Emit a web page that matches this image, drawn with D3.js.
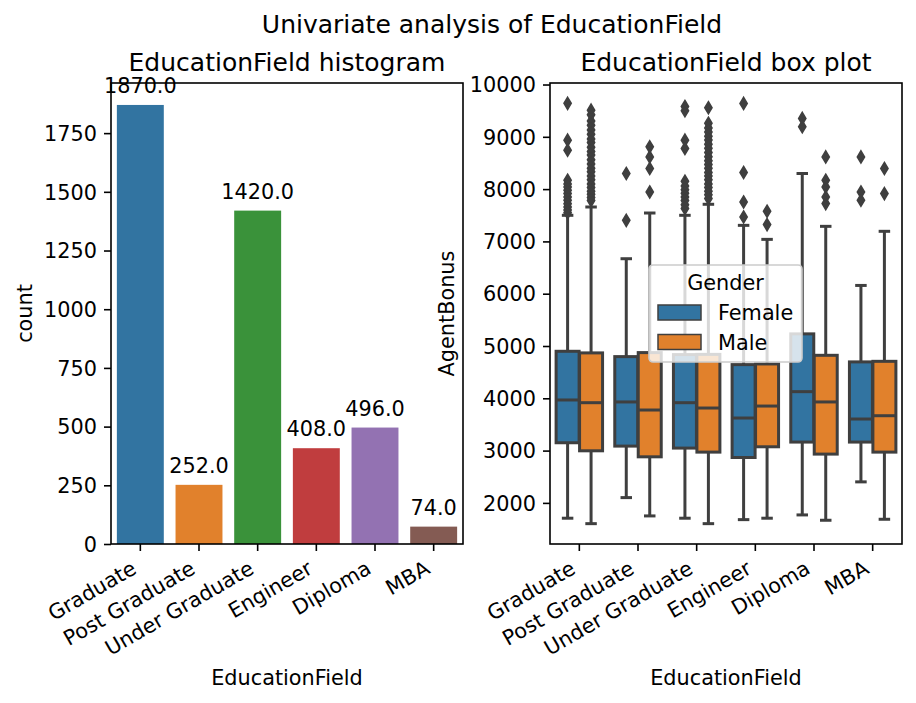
<!DOCTYPE html>
<html>
<head>
<meta charset="utf-8">
<script src="https://cdn.jsdelivr.net/npm/d3@7"></script>
<style>
  body { margin: 0; background: #fff; }
  svg { display: block; font-family: "DejaVu Sans", sans-serif; }
</style>
</head>
<body>
<div id="chart"></div>
<script>
// data
const categories = ["Graduate", "Post Graduate", "Under Graduate", "Engineer", "Diploma", "MBA"];
const counts = [1870, 252, 1420, 408, 496, 74];
const barColors = ["#3274a1", "#e1812c", "#3a923a", "#c03d3e", "#9372b2", "#845b53"];
const genders = ["Female", "Male"];
const genderColors = ["#3274a1", "#e1812c"];
const countTicks = [0, 250, 500, 750, 1000, 1250, 1500, 1750];
const bonusTicks = [2000, 3000, 4000, 5000, 6000, 7000, 8000, 9000, 10000];

// [whisker low, q1, median, q3, whisker high] per category
const femaleStats = [
  [1707, 3150, 3968, 4899, 7499],
  [2101, 3086, 3930, 4797, 6669],
  [1707, 3048, 3916, 4836, 7499],
  [1680, 2868, 3623, 4644, 7307],
  [1770, 3163, 4127, 5232, 8298],
  [2402, 3163, 3604, 4696, 6158]
];
const maleStats = [
  [1603, 2996, 3916, 4868, 7658],
  [1751, 2881, 3776, 4874, 7543],
  [1603, 2971, 3814, 4840, 7710],
  [1707, 3073, 3852, 4657, 7039],
  [1668, 2933, 3930, 4822, 7288],
  [1687, 2971, 3667, 4707, 7193]
];
const femaleOutliers = [
  [9640, 8936, 8745, 8170, 8100, 8040, 7980, 7915, 7850, 7786, 7720, 7658, 7600, 7550],
  [8298, 7403],
  [9580, 9500, 8936, 8777, 8150, 8060, 7990, 7920, 7850, 7780, 7700, 7630],
  [9639, 8317, 7754, 7467],
  [9352, 9192],
  [8616, 7946, 7787]
];
const maleOutliers = [
  [9510, 9420, 9300, 9220, 9130, 9050, 8960, 8890, 8800, 8720, 8650, 8560, 8480, 8400, 8330, 8250, 8180, 8100, 8030, 7960, 7900, 7840, 7780],
  [8808, 8616, 8394, 7946],
  [9556, 9260, 9170, 9090, 9010, 8940, 8860, 8780, 8700, 8620, 8540, 8470, 8400, 8320, 8250, 8180, 8100, 8030, 7960, 7890, 7820],
  [7576, 7321],
  [8616, 8170, 8042, 7850, 7723],
  [8394, 7914]
];

const W = 916, H = 703;
const FS = 20.8, TFS = 25;
const lineGray = "#3f3f3f";

const svg = d3.select("#chart").append("svg")
    .attr("width", W)
    .attr("height", H);

svg.append("text")
    .attr("x", 492).attr("y", 33)
    .attr("text-anchor", "middle")
    .attr("font-size", TFS)
    .text("Univariate analysis of EducationField");

const axTop = 83, axBottom = 544;

function xBand(left, right) {
    return d3.scaleBand().domain(categories).range([left, right])
        .paddingInner(0.2).paddingOuter(0.1);
}

function drawAxes(g, x, y, yTicks, left, right, title, ylabel, ylabelX) {
    const ya = g.append("g")
        .attr("transform", `translate(${left},0)`)
        .call(d3.axisLeft(y).tickValues(yTicks).tickFormat(d3.format("d"))
            .tickSize(7).tickPadding(7).tickSizeOuter(0));
    const xa = g.append("g")
        .attr("transform", `translate(0,${axBottom})`)
        .call(d3.axisBottom(x).tickSize(7).tickPadding(7).tickSizeOuter(0));
    [ya, xa].forEach(a => {
        a.select(".domain").remove();
        a.selectAll("line").attr("stroke", "#000").attr("stroke-width", 1.6);
        a.selectAll("text").attr("font-size", FS).attr("fill", "#000")
            .attr("font-family", "DejaVu Sans");
    });
    ya.selectAll("text").attr("dy", "0.35em");
    xa.selectAll("text")
        .attr("x", 0).attr("y", 0).attr("dy", null)
        .attr("text-anchor", "end")
        .attr("transform", "translate(-2.4,28.5) rotate(-30)");

    g.append("rect")
        .attr("x", left).attr("y", axTop)
        .attr("width", right - left).attr("height", axBottom - axTop)
        .attr("fill", "none").attr("stroke", "#000").attr("stroke-width", 1.6);

    g.append("text")
        .attr("x", (left + right) / 2).attr("y", 70.5)
        .attr("text-anchor", "middle").attr("font-size", TFS)
        .text(title);
    g.append("text")
        .attr("x", (left + right) / 2).attr("y", 685)
        .attr("text-anchor", "middle").attr("font-size", FS)
        .text("EducationField");
    g.append("text")
        .attr("transform", `translate(${ylabelX},${(axTop + axBottom) / 2}) rotate(-90)`)
        .attr("text-anchor", "middle").attr("font-size", FS)
        .text(ylabel);
}

// histogram (count plot)
const left1 = 111, right1 = 463;
const x1 = xBand(left1, right1);
const y1 = d3.scaleLinear().domain([0, 1870 * 1.05]).range([axBottom, axTop]);
const g1 = svg.append("g");

g1.selectAll("rect.bar")
    .data(categories)
    .join("rect")
    .attr("class", "bar")
    .attr("x", d => x1(d))
    .attr("width", x1.bandwidth())
    .attr("y", (d, i) => y1(counts[i]))
    .attr("height", (d, i) => axBottom - y1(counts[i]))
    .attr("fill", (d, i) => barColors[i]);

g1.selectAll("text.lbl")
    .data(categories)
    .join("text")
    .attr("class", "lbl")
    .attr("x", d => x1(d) + x1.bandwidth() / 2)
    .attr("y", (d, i) => y1(counts[i]) - 12)
    .attr("text-anchor", "middle")
    .attr("font-size", FS)
    .text((d, i) => counts[i].toFixed(1));

drawAxes(g1, x1, y1, countTicks, left1, right1, "EducationField histogram", "count", 32);

// box plot
const left2 = 550, right2 = 902;
const x2 = xBand(left2, right2);
const hue = d3.scaleBand().domain(genders).range([0, x2.bandwidth()]);
const y2 = d3.scaleLinear().domain([1214, 10029]).range([axBottom, axTop]);
const g2 = svg.append("g");

const boxes = [];
categories.forEach((c, i) => {
    boxes.push({ c, gender: 0, s: femaleStats[i], out: femaleOutliers[i] });
    boxes.push({ c, gender: 1, s: maleStats[i], out: maleOutliers[i] });
});

const boxW = hue.bandwidth() * 0.98;
const diamond = "M0,-6L3.6,0L0,6L-3.6,0Z";

const bg = g2.selectAll("g.box")
    .data(boxes)
    .join("g")
    .attr("class", "box")
    .attr("transform", d => `translate(${x2(d.c) + hue(genders[d.gender]) + hue.bandwidth() / 2},0)`);

bg.append("line")
    .attr("y1", d => y2(d.s[0])).attr("y2", d => y2(d.s[1]))
    .attr("stroke", lineGray).attr("stroke-width", 3);
bg.append("line")
    .attr("y1", d => y2(d.s[3])).attr("y2", d => y2(d.s[4]))
    .attr("stroke", lineGray).attr("stroke-width", 3);
bg.append("line")
    .attr("x1", -boxW / 4).attr("x2", boxW / 4)
    .attr("y1", d => y2(d.s[0])).attr("y2", d => y2(d.s[0]))
    .attr("stroke", lineGray).attr("stroke-width", 3);
bg.append("line")
    .attr("x1", -boxW / 4).attr("x2", boxW / 4)
    .attr("y1", d => y2(d.s[4])).attr("y2", d => y2(d.s[4]))
    .attr("stroke", lineGray).attr("stroke-width", 3);
bg.append("rect")
    .attr("x", -boxW / 2).attr("width", boxW)
    .attr("y", d => y2(d.s[3]))
    .attr("height", d => y2(d.s[1]) - y2(d.s[3]))
    .attr("fill", d => genderColors[d.gender])
    .attr("stroke", lineGray).attr("stroke-width", 3);
bg.append("line")
    .attr("x1", -boxW / 2).attr("x2", boxW / 2)
    .attr("y1", d => y2(d.s[2])).attr("y2", d => y2(d.s[2]))
    .attr("stroke", lineGray).attr("stroke-width", 3);
bg.selectAll("path.flier")
    .data(d => d.out)
    .join("path")
    .attr("class", "flier")
    .attr("d", diamond)
    .attr("transform", v => `translate(0,${y2(v)})`)
    .attr("fill", lineGray)
    .attr("stroke", lineGray).attr("stroke-width", 1.6)
    .attr("stroke-linejoin", "miter");

drawAxes(g2, x2, y2, bonusTicks, left2, right2, "EducationField box plot", "AgentBonus", 454);

// legend
const lg = g2.append("g").attr("transform", "translate(649,265)");
lg.append("rect")
    .attr("width", 153).attr("height", 97).attr("rx", 4)
    .attr("fill", "rgba(255,255,255,0.8)")
    .attr("stroke", "#cccccc").attr("stroke-width", 1.6);
lg.append("text")
    .attr("x", 76.5).attr("y", 25)
    .attr("text-anchor", "middle").attr("font-size", FS)
    .text("Gender");
genders.forEach((gname, i) => {
    lg.append("rect")
        .attr("x", 9).attr("y", 40 + i * 29.5)
        .attr("width", 43).attr("height", 15)
        .attr("fill", genderColors[i])
        .attr("stroke", lineGray).attr("stroke-width", 1.5);
    lg.append("text")
        .attr("x", 69).attr("y", 55 + i * 29.5)
        .attr("font-size", FS)
        .text(gname);
});
</script>
</body>
</html>
